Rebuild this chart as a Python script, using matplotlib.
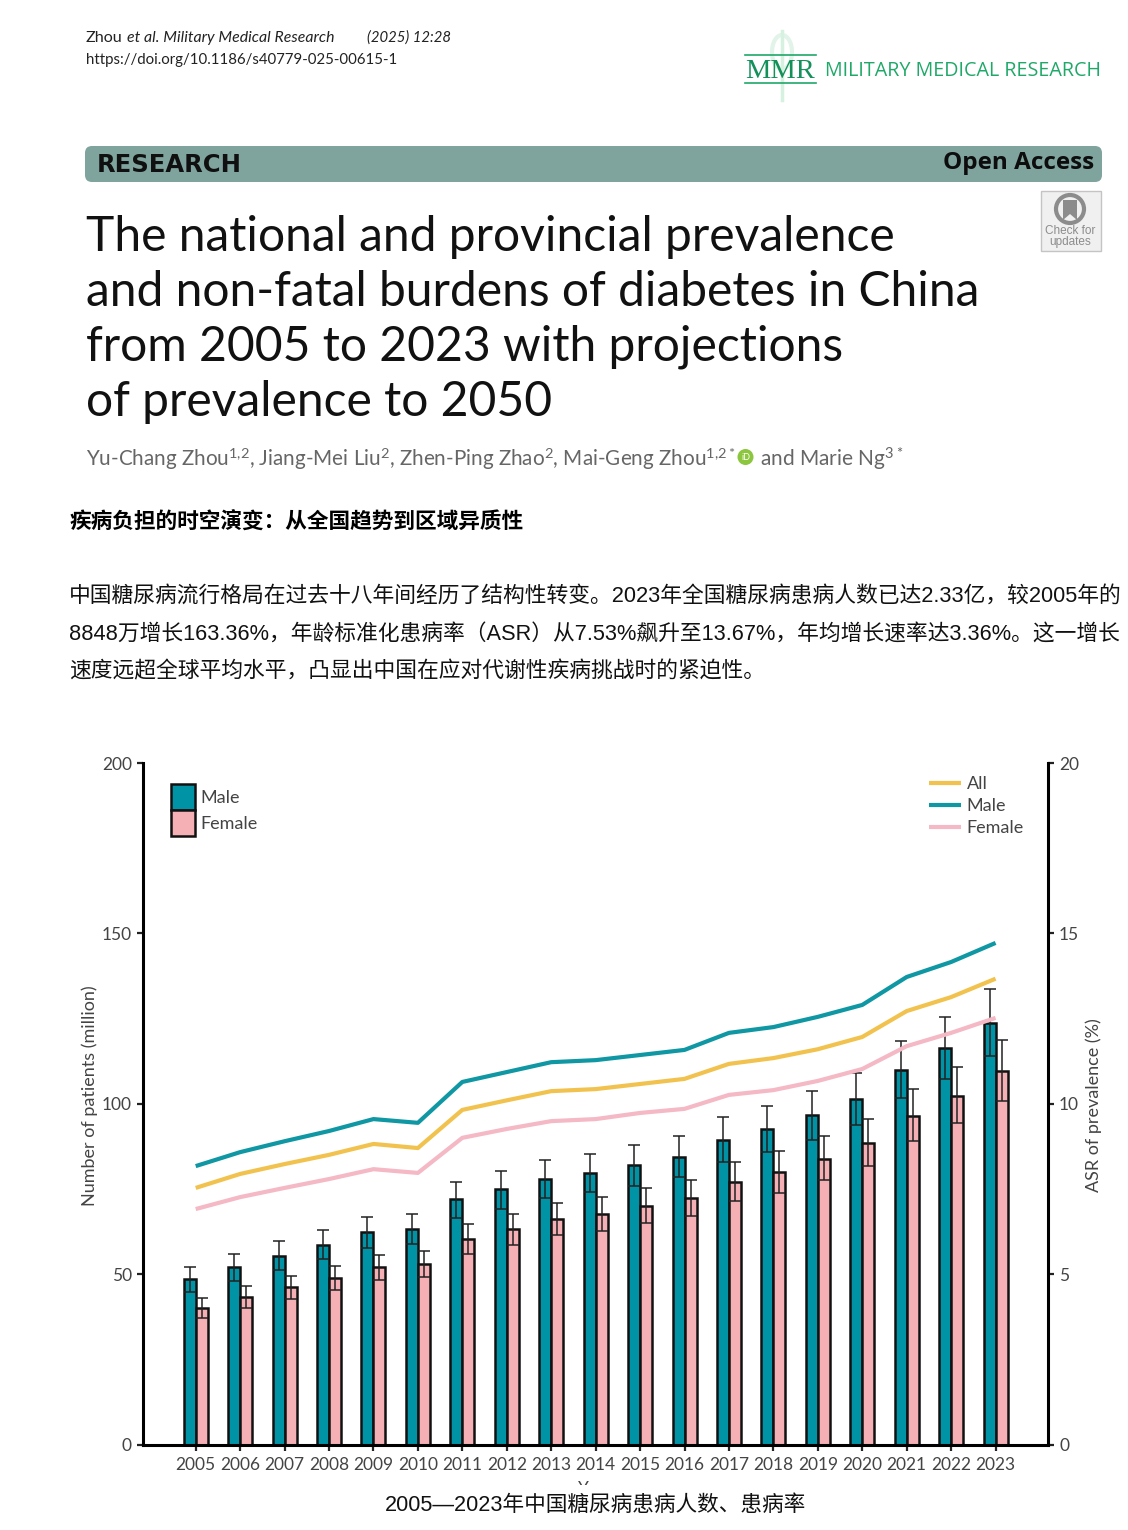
import numpy as np
import matplotlib
matplotlib.use('Agg')
import matplotlib.pyplot as plt
from matplotlib.patches import FancyBboxPatch, Rectangle, Circle, Ellipse, Polygon

plt.rcParams['mathtext.default'] = 'regular'
plt.rcParams['mathtext.fontset'] = 'custom'
plt.rcParams['mathtext.rm'] = 'Lato'

# Datos
years = np.arange(2005, 2024)

male_n = [48.5, 52.0, 55.4, 58.5, 62.3, 63.1, 72.0, 74.9, 78.0, 79.6,
          81.9, 84.4, 89.5, 92.5, 96.6, 101.4, 110.0, 116.3, 123.7]
male_up = [52.0, 55.9, 59.6, 63.0, 66.9, 67.6, 77.1, 80.2, 83.5, 85.2,
           87.9, 90.6, 96.1, 99.4, 103.7, 109.1, 118.5, 125.4, 133.8]
male_lo = [44.7, 48.0, 51.2, 54.3, 57.6, 58.7, 66.6, 69.1, 72.2, 74.0,
           76.0, 78.5, 82.9, 85.7, 89.3, 93.8, 101.6, 107.3, 114.1]

female_n = [40.2, 43.2, 46.1, 48.9, 52.0, 52.9, 60.4, 63.1, 66.1, 67.7,
            70.1, 72.3, 77.1, 80.0, 83.9, 88.4, 96.5, 102.4, 109.6]
female_up = [43.1, 46.4, 49.5, 52.5, 55.7, 56.7, 64.8, 67.7, 70.8, 72.6,
             75.2, 77.7, 82.8, 86.1, 90.6, 95.4, 104.2, 110.9, 118.7]
female_lo = [37.2, 40.1, 42.8, 45.3, 48.3, 49.1, 56.0, 58.5, 61.4, 62.8,
             65.0, 67.1, 71.5, 73.9, 77.5, 81.6, 89.0, 94.4, 100.7]

asr_all = [7.53, 7.94, 8.23, 8.50, 8.82, 8.70, 9.82, 10.10, 10.37, 10.43,
           10.58, 10.73, 11.17, 11.34, 11.60, 11.96, 12.72, 13.13, 13.67]
asr_male = [8.17, 8.58, 8.90, 9.20, 9.55, 9.44, 10.64, 10.93, 11.22, 11.28,
            11.43, 11.58, 12.08, 12.25, 12.55, 12.90, 13.72, 14.16, 14.72]
asr_female = [6.91, 7.26, 7.53, 7.79, 8.08, 7.97, 9.00, 9.26, 9.49, 9.55,
              9.73, 9.85, 10.26, 10.40, 10.67, 11.02, 11.69, 12.08, 12.52]

left_ticks = [0, 50, 100, 150, 200]
right_ticks = [0, 5, 10, 15, 20]

title_lines = ['The national and provincial prevalence',
               'and non-fatal burdens of diabetes in China',
               'from 2005 to 2023 with projections',
               'of prevalence to 2050']
body_lines = ['中国糖尿病流行格局在过去十八年间经历了结构性转变。2023年全国糖尿病患病人数已达2.33亿，较2005年的',
              '8848万增长163.36%，年龄标准化患病率（ASR）从7.53%飙升至13.67%，年均增长速率达3.36%。这一增长',
              '速度远超全球平均水平，凸显出中国在应对代谢性疾病挑战时的紧迫性。']

TEAL = '#0093a6'
PINK = '#f4b0b5'
GREEN = '#1fa868'
GREY = '#444444'
CJK = ['Liberation Sans', 'Noto Sans CJK SC']
LATO = 'Lato'

fig = plt.figure(figsize=(11.28, 15.3), dpi=100, facecolor='white')

# Pagina del articulo, en coordenadas de pixel
page = fig.add_axes([0, 0, 1, 1])
page.set_xlim(0, 1128)
page.set_ylim(1530, 0)
page.axis('off')

page.text(86, 38, 'Zhou', fontsize=11.6, family=LATO, color='#222222', va='center')
page.text(127, 38, 'et al. Military Medical Research', fontsize=11.4, family=LATO, style='italic',
          color='#222222', va='center')
page.text(367, 38, '(2025) 12:28', fontsize=10.7, family=LATO, style='italic',
          color='#222222', va='center')
page.text(86, 59.5, 'https://doi.org/10.1186/s40779-025-00615-1', fontsize=10.8,
          family=LATO, color='#222222', va='center')

# Logo MMR
page.add_patch(Ellipse((782, 52), 20, 34, fc='none', ec='#e2f4e9', lw=3))
page.plot([782, 782], [31, 100], color='#d6f1e0', lw=2.5)
page.plot([745, 816], [55, 55], color=GREEN, lw=1.2)
page.plot([745, 816], [83, 83], color=GREEN, lw=1.2)
page.text(780.5, 71.5, 'MMR', fontsize=20.5, family='Liberation Serif', color='#14905a',
          ha='center', va='center')
page.text(825, 71, 'MILITARY MEDICAL RESEARCH', fontsize=14.2, family='Open Sans',
          color=GREEN, va='center')

page.add_patch(FancyBboxPatch((85, 146), 1017, 36, boxstyle='round,pad=0,rounding_size=7',
                              fc='#7fa39d', ec='none'))
page.text(97, 165, 'RESEARCH', fontsize=17.5, family='DejaVu Sans',
          weight='bold', color='#101010', va='center')
page.text(1094, 163, 'Open Access', fontsize=17.5, family='Open Sans', weight='bold',
          color='#0d0d0d', ha='right', va='center')

# Boton "Check for updates"
page.add_patch(Rectangle((1040.5, 191), 60, 60, fc='#f0f0f0', ec='#c4c4c4', lw=1))
page.add_patch(Circle((1070, 209), 14, fc='#f0f0f0', ec='#8c8c8c', lw=3))
page.add_patch(Polygon([(1063, 200), (1077, 200), (1077, 220), (1070, 214), (1063, 220)],
                       fc='#8c8c8c', ec='none'))
page.text(1070, 231, 'Check for', fontsize=8.5, family='Liberation Sans', color='#8c8c8c',
          ha='center', va='center')
page.text(1070, 242, 'updates', fontsize=8.5, family='Liberation Sans', color='#8c8c8c',
          ha='center', va='center')

for y, line in zip([237, 292, 347, 402], title_lines):
    page.text(86, y, line, fontsize=34.6, family=LATO, color='#111111', va='center')

page.text(86, 459, 'Yu-Chang Zhou$^{1{,}2}$, Jiang-Mei Liu$^{2}$, Zhen-Ping Zhao$^{2}$, '
          'Mai-Geng Zhou$^{1{,}2*}$', fontsize=14.9, family=LATO, color='#666666', va='center')
page.add_patch(Circle((745.5, 457), 8, fc='#8cc63f', ec='none'))
page.text(745.5, 457, 'iD', fontsize=6.5, family=LATO, color='white', ha='center', va='center')
page.text(760, 459, 'and Marie Ng$^{3*}$', fontsize=15, family=LATO, color='#666666', va='center')

page.text(69, 528.5, '疾病负担的时空演变：从全国趋势到区域异质性', fontsize=15.6, family=CJK,
          weight='bold', color='black', va='baseline')
for y, line in zip([601.5, 639.5, 677.5], body_lines):
    page.text(69, y, line, fontsize=15.68, family=CJK, color='#111111', va='baseline')

# Grafico
ax = fig.add_axes([143 / 1128, 1 - 1444.5 / 1530, 905 / 1128, 681.5 / 1530])
ax.patch.set_alpha(0)
width = 0.27
male_n = np.array(male_n)
female_n = np.array(female_n)
bar_m = ax.bar(years - width / 2, male_n, width, color=TEAL, edgecolor='#111111', linewidth=1.8,
               label='Male')
bar_f = ax.bar(years + width / 2, female_n, width, color=PINK, edgecolor='#111111', linewidth=1.8,
               label='Female')
ax.errorbar(years - width / 2, male_n, yerr=[male_n - np.array(male_lo), np.array(male_up) - male_n],
            fmt='none', ecolor='#222222', elinewidth=1.1, capsize=4.2, capthick=1.1)
ax.errorbar(years + width / 2, female_n, yerr=[female_n - np.array(female_lo), np.array(female_up) - female_n],
            fmt='none', ecolor='#222222', elinewidth=1.1, capsize=4.2, capthick=1.1)

ax.set_xlim(2003.814, 2024.18)
ax.set_ylim(0, 200)
ax.set_xticks(years)
ax.set_yticks(left_ticks)
ax.tick_params(axis='x', labelsize=12.5, labelcolor=GREY, width=1.6, length=4.5, color='#222222', pad=4.5)
ax.tick_params(axis='y', labelsize=12.5, labelcolor=GREY, width=1.6, length=4.5, color='#222222', pad=3.5)
for lab in ax.get_xticklabels() + ax.get_yticklabels():
    lab.set_family(LATO)
ax.spines['top'].set_visible(False)
ax.spines['right'].set_visible(False)
ax.spines['left'].set_linewidth(2.2)
ax.spines['bottom'].set_linewidth(2.2)

ax2 = ax.twinx()
ax2.patch.set_alpha(0)
line_all, = ax2.plot(years, asr_all, color='#f2c24f', lw=3, solid_capstyle='butt', label='All')
line_male, = ax2.plot(years, asr_male, color='#0f97a3', lw=3, solid_capstyle='butt', label='Male')
line_female, = ax2.plot(years, asr_female, color='#f4b9c5', lw=3, solid_capstyle='butt', label='Female')
ax2.set_ylim(0, 20)
ax2.set_yticks(right_ticks)
ax2.tick_params(axis='y', labelsize=12.5, labelcolor=GREY, width=1.6, length=4.5, color='#222222', pad=3.5)
for lab in ax2.get_yticklabels():
    lab.set_family(LATO)
ax2.spines['top'].set_visible(False)
ax2.spines['left'].set_visible(False)
ax2.spines['bottom'].set_visible(False)
ax2.spines['right'].set_linewidth(2.2)

legend_font = {'family': LATO, 'size': 13}
leg1 = ax2.legend(handles=[bar_m, bar_f], loc='upper left', bbox_to_anchor=(28 / 905, 1 - 21 / 681.5),
                  frameon=False, prop=legend_font, labelspacing=0, borderpad=0, borderaxespad=0,
                  handlelength=1.33, handleheight=1.85, handletextpad=0.3, labelcolor=GREY)
ax2.add_artist(leg1)
ax2.legend(handles=[line_all, line_male, line_female], loc='upper left',
           bbox_to_anchor=(786 / 905, 1 - 13 / 681.5), frameon=False, prop=legend_font,
           labelspacing=0.33, borderpad=0, borderaxespad=0, handlelength=1.78,
           handletextpad=0.3, labelcolor=GREY)

page.text(90, 1096, 'Number of patients (million)', rotation=90, fontsize=13, family=LATO,
          color=GREY, ha='center', va='center')
page.text(1094, 1105, 'ASR of prevalence (%)', rotation=90, fontsize=13, family=LATO,
          color=GREY, ha='center', va='center')

# "Year" queda tapado por el pie de figura
over = fig.add_axes([0, 0, 1, 1])
over.set_xlim(0, 1128)
over.set_ylim(1530, 0)
over.axis('off')
over.text(596, 1489, 'Year', fontsize=12.5, family=LATO, color=GREY, ha='center', va='center', zorder=2)
over.add_patch(Rectangle((340, 1484.5), 520, 40, fc='white', ec='none', zorder=3))
over.text(595, 1505, '2005—2023年中国糖尿病患病人数、患病率', fontsize=15.6, family=CJK, color='#111111',
          ha='center', va='center', zorder=4)

fig.savefig('out.png', dpi=100)
